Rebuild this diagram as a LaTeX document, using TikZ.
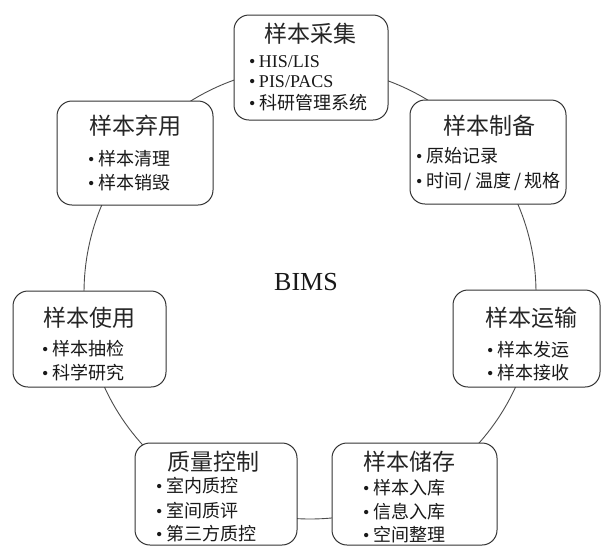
\documentclass[tikz,border=0pt]{standalone}
\usepackage{fontspec}
\setmainfont{Liberation Serif}
\newfontfamily\cjk{Noto Sans CJK SC}
\newcommand\bul{•\hspace{3.5pt}}
\newcommand\sls{\hspace{3pt}/\hspace{3pt}}
\begin{document}
\begin{tikzpicture}[x=1pt,y=-1pt,
  box/.style={draw=black!80, line width=1pt, rounded corners=15pt, fill=white, inner sep=0pt},
  ttl/.style={font=\cjk\fontsize{23}{26}\selectfont, inner sep=0pt, anchor=base, text=black!85},
  itm/.style={font=\fontsize{18}{21}\selectfont, inner sep=0pt, anchor=base west, text=black!90},
  ring/.style={draw=black!70, line width=0.9pt}]
\useasboundingbox (0,0) rectangle (602,547);
\coordinate (c) at (310,293);
\draw[ring] (c) circle[radius=226];
\node[font=\fontsize{26}{30}\selectfont, inner sep=0pt, anchor=base, text=black!90] (bims) at (306,290) {BIMS};

% 样本采集
\node[box, minimum width=154pt, minimum height=105pt] (b1) at (311,67.5) {};
\node[ttl] (t1) at (310,42) {样本采集};
\node[itm] (i11) at (249,67) {\bul HIS/LIS};
\node[itm] (i12) at (249,87) {\bul PIS/PACS};
\node[itm] (i13) at (249,109) {\bul{\cjk 科研管理系统}};

% 样本制备
\node[box, minimum width=156pt, minimum height=104pt] (b2) at (488,152) {};
\node[ttl] (t2) at (489,134) {样本制备};
\node[itm] (i21) at (416,162) {\bul{\cjk 原始记录}};
\node[itm] (i22) at (416,187) {\bul{\cjk 时间\sls 温度\sls 规格}};

% 样本运输
\node[box, minimum width=147pt, minimum height=97pt] (b3) at (526.5,338.5) {};
\node[ttl] (t3) at (531,326) {样本运输};
\node[itm] (i31) at (487,356) {\bul{\cjk 样本发运}};
\node[itm] (i32) at (487,379) {\bul{\cjk 样本接收}};

% 样本储存
\node[box, minimum width=165pt, minimum height=102pt] (b4) at (414.5,494) {};
\node[ttl] (t4) at (409.5,470) {样本储存};
\node[itm] (i41) at (363,494) {\bul{\cjk 样本入库}};
\node[itm] (i42) at (363,518) {\bul{\cjk 信息入库}};
\node[itm] (i43) at (363,541) {\bul{\cjk 空间整理}};

% 质量控制
\node[box, minimum width=162pt, minimum height=102pt] (b5) at (216,494) {};
\node[ttl] (t5) at (213,470) {质量控制};
\node[itm] (i51) at (156,492) {\bul{\cjk 室内质控}};
\node[itm] (i52) at (156,517) {\bul{\cjk 室间质评}};
\node[itm] (i53) at (156,540) {\bul{\cjk 第三方质控}};

% 样本使用
\node[box, minimum width=153pt, minimum height=96pt] (b6) at (89.5,339) {};
\node[ttl] (t6) at (89.5,326) {样本使用};
\node[itm] (i61) at (42,355) {\bul{\cjk 样本抽检}};
\node[itm] (i62) at (42,379) {\bul{\cjk 科学研究}};

% 样本弃用
\node[box, minimum width=156pt, minimum height=104pt] (b7) at (135,153) {};
\node[ttl] (t7) at (135,134) {样本弃用};
\node[itm] (i71) at (88,165) {\bul{\cjk 样本清理}};
\node[itm] (i72) at (88,189) {\bul{\cjk 样本销毁}};
\end{tikzpicture}
\end{document}
